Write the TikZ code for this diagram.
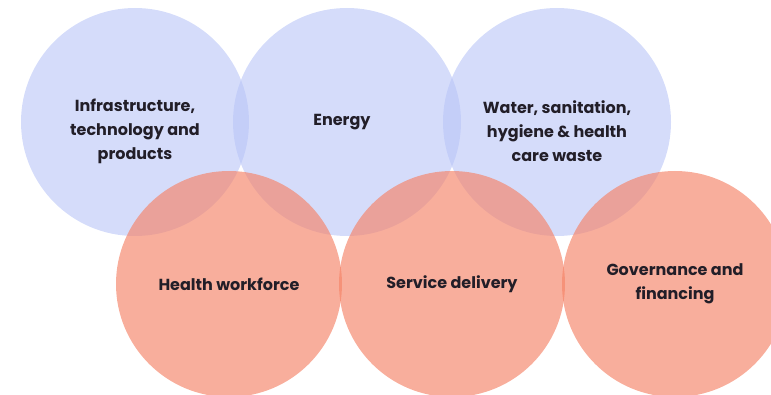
\documentclass[tikz,border=0pt]{standalone}
\usepackage{fontspec}
\setmainfont{Poppins}
\definecolor{discblue}{RGB}{185,197,247}
\definecolor{discred}{RGB}{245,131,103}
\definecolor{txtdark}{RGB}{34,30,40}
\begin{document}
\begin{tikzpicture}[x=1pt,y=1pt,
    bluedisc/.style={circle,fill=discblue,fill opacity=0.6,minimum size=228pt,inner sep=0pt},
    reddisc/.style={circle,fill=discred,fill opacity=0.65,minimum size=226pt,inner sep=0pt},
    lbl/.style={text=txtdark,align=center,font=\bfseries\fontsize{16}{24}\selectfont}]
    \clip (0,0) rectangle (771,394);
    \node[bluedisc] (infra) at (135,272) {};
    \node[bluedisc] (energy) at (347,272) {};
    \node[bluedisc] (wash) at (557,272) {};
    \node[reddisc] (workforce) at (229,110) {};
    \node[reddisc] (service) at (452,110) {};
    \node[reddisc] (governance) at (675,110) {};
    \node[lbl] (infratxt) at ([yshift=-9pt]infra.center) {Infrastructure,\\technology and\\products};
    \node[lbl] (energytxt) at ([xshift=-5pt]energy.center) {Energy};
    \node[lbl] (washtxt) at ([yshift=-9pt]wash.center) {Water, sanitation,\\hygiene \& health\\care waste};
    \node[lbl] (workforcetxt) at (workforce.center) {Health workforce};
    \node[lbl] (servicetxt) at (service.center) {Service delivery};
    \node[lbl] (governancetxt) at (governance.center) {Governance and\\financing};
\end{tikzpicture}
\end{document}
